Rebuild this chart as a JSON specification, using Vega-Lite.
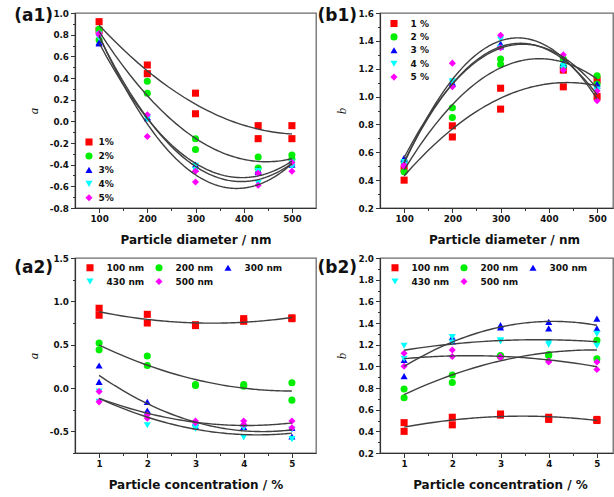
{
  "$schema": "https://vega.github.io/schema/vega-lite/v6.json",
  "padding": {"left": 13, "top": 6, "right": 0, "bottom": 0},
  "datasets": {
    "pts": [
      {"d":100,"c":1,"a":0.92,"b":0.48},{"d":100,"c":1,"a":0.84,"b":0.40},
      {"d":100,"c":2,"a":0.85,"b":0.53},{"d":100,"c":2,"a":0.75,"b":0.46},
      {"d":100,"c":3,"a":0.73,"b":0.56},{"d":100,"c":3,"a":0.72,"b":0.55},
      {"d":100,"c":4,"a":0.80,"b":0.53},{"d":100,"c":4,"a":0.77,"b":0.51},
      {"d":100,"c":5,"a":0.81,"b":0.51},{"d":100,"c":5,"a":0.80,"b":0.50},
      {"d":200,"c":1,"a":0.52,"b":0.79},{"d":200,"c":1,"a":0.44,"b":0.71},
      {"d":200,"c":2,"a":0.37,"b":0.92},{"d":200,"c":2,"a":0.26,"b":0.85},
      {"d":200,"c":3,"a":0.04,"b":1.10},{"d":200,"c":3,"a":0.03,"b":1.09},
      {"d":200,"c":4,"a":0.04,"b":1.11},{"d":200,"c":4,"a":0.02,"b":1.10},
      {"d":200,"c":5,"a":0.06,"b":1.24},{"d":200,"c":5,"a":-0.14,"b":1.07},
      {"d":300,"c":1,"a":0.26,"b":1.06},{"d":300,"c":1,"a":0.07,"b":0.91},
      {"d":300,"c":2,"a":-0.16,"b":1.27},{"d":300,"c":2,"a":-0.26,"b":1.23},
      {"d":300,"c":3,"a":-0.40,"b":1.38},{"d":300,"c":3,"a":-0.44,"b":1.36},
      {"d":300,"c":4,"a":-0.41,"b":1.41},{"d":300,"c":4,"a":-0.45,"b":1.35},
      {"d":300,"c":5,"a":-0.46,"b":1.44},{"d":300,"c":5,"a":-0.56,"b":1.35},
      {"d":430,"c":1,"a":-0.04,"b":1.19},{"d":430,"c":1,"a":-0.16,"b":1.07},
      {"d":430,"c":2,"a":-0.33,"b":1.27},{"d":430,"c":2,"a":-0.43,"b":1.22},
      {"d":430,"c":3,"a":-0.45,"b":1.24},{"d":430,"c":3,"a":-0.47,"b":1.23},
      {"d":430,"c":4,"a":-0.46,"b":1.22},{"d":430,"c":4,"a":-0.57,"b":1.20},
      {"d":430,"c":5,"a":-0.48,"b":1.30},{"d":430,"c":5,"a":-0.59,"b":1.19},
      {"d":500,"c":1,"a":-0.04,"b":1.12},{"d":500,"c":1,"a":-0.16,"b":1.00},
      {"d":500,"c":2,"a":-0.31,"b":1.15},{"d":500,"c":2,"a":-0.35,"b":1.09},
      {"d":500,"c":3,"a":-0.38,"b":1.09},{"d":500,"c":3,"a":-0.40,"b":1.08},
      {"d":500,"c":4,"a":-0.38,"b":1.05},{"d":500,"c":4,"a":-0.42,"b":1.04},
      {"d":500,"c":5,"a":-0.38,"b":1.04},{"d":500,"c":5,"a":-0.46,"b":0.97}
    ]
  },
  "config": {
    "font": "DejaVu Sans",
    "view": {"stroke": "#6b6b6b", "strokeWidth": 1.3},
    "axis": {
      "labelFont": "DejaVu Sans", "labelFontWeight": "bold", "labelFontSize": 8.8, "labelColor": "#111111",
      "titleFont": "DejaVu Sans", "titleFontWeight": "bold", "titleFontSize": 12, "titleColor": "#111111",
      "domainColor": "#333333", "domainWidth": 1.2, "tickColor": "#333333", "tickWidth": 1, "tickCount": 100,
      "grid": false, "labelPadding": 2, "labelOverlap": false, "labelFlush": false, "titlePadding": 11
    },
    "axisY": {"titleFont": "Liberation Serif", "titleFontStyle": "italic", "titleFontWeight": "normal", "titleFontSize": 13, "titlePadding": 9},
    "legend": {"title": null, "labelFont": "DejaVu Sans", "labelFontWeight": "bold", "labelFontSize": 9, "labelColor": "#111111", "symbolSize": 50, "symbolStrokeWidth": 0, "padding": 0, "orient": "none"},
    "point": {"filled": true, "size": 50, "opacity": 1}
  },
  "bounds": "flush",
  "columns": 2,
  "spacing": {"row": 50, "column": 64},
  "resolve": {"scale": {"color": "independent", "shape": "independent"}},
  "concat": [
    {
      "width": 241, "height": 195,
      "title": {"text": "(a1)", "anchor": "start", "frame": "group", "align": "right", "baseline": "alphabetic", "offset": 0, "dx": -22, "dy": 29, "fontSize": 17, "fontWeight": "bold", "font": "DejaVu Sans", "color": "#111111"},
      "data": {"name": "pts"},
      "layer": [
        {
          "mark": {"type": "point", "filled": true, "size": 50, "opacity": 1},
          "encoding": {
            "x": {"field": "d", "type": "quantitative", "scale": {"domain": [50, 550], "nice": false, "zero": false},
              "axis": {"title": "Particle diameter / nm", "tickCount": 100, "values": [100,150,200,250,300,350,400,450,500],
                "labelExpr": "datum.value % 100 == 0 ? datum.label : ''",
                "tickSize": {"condition": {"test": "datum.value % 100 != 0", "value": 2.5}, "value": 4.5}}},
            "y": {"field": "a", "type": "quantitative", "scale": {"domain": [-0.8, 1.0], "nice": false, "zero": false},
              "axis": {"title": "a", "tickCount": 100, "values": [-0.8,-0.7,-0.6,-0.5,-0.4,-0.3,-0.2,-0.1,0,0.1,0.2,0.3,0.4,0.5,0.6,0.7,0.8,0.9,1.0],
                "labelExpr": "abs(round(datum.value*10)) % 2 == 0 ? (datum.value < 0 ? '-' : '') + format(abs(datum.value), '.1f') : ''",
                "tickSize": {"condition": {"test": "abs(round(datum.value*10)) % 2 != 0", "value": 2.5}, "value": 4.5}}},
            "color": {"field": "c", "type": "nominal", "scale": {"range": ["#ff0000", "#00ee00", "#0000ff", "#00ffff", "#ff00ff"]},
              "legend": {"legendX": 9.5, "legendY": 124.5, "labelExpr": "datum.label + '%'", "rowPadding": 3.95, "labelOffset": 5}},
            "shape": {"field": "c", "type": "nominal", "scale": {"range": ["square", "circle", "triangle-up", "triangle-down", "diamond"]}}
          }
        },
        {
          "transform": [{"regression": "a", "on": "d", "groupby": ["c"], "method": "poly", "order": 2}],
          "mark": {"type": "line", "color": "#404040", "strokeWidth": 1.4},
          "encoding": {
            "x": {"field": "d", "type": "quantitative"},
            "y": {"field": "a", "type": "quantitative"},
            "detail": {"field": "c", "type": "nominal"}
          }
        }
      ]
    },
    {
      "width": 233, "height": 195,
      "title": {"text": "(b1)", "anchor": "start", "frame": "group", "align": "right", "baseline": "alphabetic", "offset": 0, "dx": -23, "dy": 29, "fontSize": 17, "fontWeight": "bold", "font": "DejaVu Sans", "color": "#111111"},
      "data": {"name": "pts"},
      "layer": [
        {
          "mark": {"type": "point", "filled": true, "size": 50, "opacity": 1},
          "encoding": {
            "x": {"field": "d", "type": "quantitative", "scale": {"domain": [50, 533], "nice": false, "zero": false},
              "axis": {"title": "Particle diameter / nm", "titleX": 124, "tickCount": 100, "values": [100,150,200,250,300,350,400,450,500],
                "labelExpr": "datum.value % 100 == 0 ? datum.label : ''",
                "tickSize": {"condition": {"test": "datum.value % 100 != 0", "value": 2.5}, "value": 4.5}}},
            "y": {"field": "b", "type": "quantitative", "scale": {"domain": [0.2, 1.6], "nice": false, "zero": false},
              "axis": {"title": "b", "tickCount": 100, "values": [0.2,0.3,0.4,0.5,0.6,0.7,0.8,0.9,1.0,1.1,1.2,1.3,1.4,1.5,1.6],
                "labelExpr": "abs(round(datum.value*10)) % 2 == 0 ? format(datum.value, '.1f') : ''",
                "tickSize": {"condition": {"test": "abs(round(datum.value*10)) % 2 != 0", "value": 2.5}, "value": 4.5}}},
            "color": {"field": "c", "type": "nominal", "scale": {"range": ["#ff0000", "#00ee00", "#0000ff", "#00ffff", "#ff00ff"]},
              "legend": {"legendX": 9.5, "legendY": 6, "labelExpr": "datum.label + ' %'", "rowPadding": 3.4, "labelOffset": 12}},
            "shape": {"field": "c", "type": "nominal", "scale": {"range": ["square", "circle", "triangle-up", "triangle-down", "diamond"]}}
          }
        },
        {
          "transform": [{"regression": "b", "on": "d", "groupby": ["c"], "method": "poly", "order": 2}],
          "mark": {"type": "line", "color": "#404040", "strokeWidth": 1.4},
          "encoding": {
            "x": {"field": "d", "type": "quantitative"},
            "y": {"field": "b", "type": "quantitative"},
            "detail": {"field": "c", "type": "nominal"}
          }
        }
      ]
    },
    {
      "width": 241, "height": 195,
      "title": {"text": "(a2)", "anchor": "start", "frame": "group", "align": "right", "baseline": "alphabetic", "offset": 0, "dx": -22, "dy": 36, "fontSize": 17, "fontWeight": "bold", "font": "DejaVu Sans", "color": "#111111"},
      "data": {"name": "pts"},
      "layer": [
        {
          "mark": {"type": "point", "filled": true, "size": 50, "opacity": 1},
          "encoding": {
            "x": {"field": "c", "type": "quantitative", "scale": {"domain": [0.5, 5.5], "nice": false, "zero": false},
              "axis": {"title": "Particle concentration / %", "tickCount": 100, "values": [1,1.5,2,2.5,3,3.5,4,4.5,5],
                "labelExpr": "datum.value % 1 == 0 ? format(datum.value, 'd') : ''",
                "tickSize": {"condition": {"test": "datum.value % 1 != 0", "value": 2.5}, "value": 4.5}}},
            "y": {"field": "a", "type": "quantitative", "scale": {"domain": [-0.75, 1.5], "nice": false, "zero": false},
              "axis": {"title": "a", "tickCount": 100, "values": [-0.75,-0.5,-0.25,0,0.25,0.5,0.75,1.0,1.25,1.5],
                "labelExpr": "abs(round(datum.value*4)) % 2 == 0 ? (datum.value < 0 ? '-' : '') + format(abs(datum.value), '.1f') : ''",
                "tickSize": {"condition": {"test": "abs(round(datum.value*4)) % 2 != 0", "value": 2.5}, "value": 4.5}}},
            "color": {"field": "d", "type": "nominal", "scale": {"range": ["#ff0000", "#00ee00", "#0000ff", "#00ffff", "#ff00ff"]},
              "legend": {"legendX": 10.5, "legendY": 5, "columns": 3, "direction": "horizontal", "labelExpr": "datum.label + ' nm'", "rowPadding": 4, "columnPadding": 10, "labelOffset": 12}},
            "shape": {"field": "d", "type": "nominal", "scale": {"range": ["square", "circle", "triangle-up", "triangle-down", "diamond"]}}
          }
        },
        {
          "transform": [{"regression": "a", "on": "c", "groupby": ["d"], "method": "poly", "order": 2}],
          "mark": {"type": "line", "color": "#404040", "strokeWidth": 1.4},
          "encoding": {
            "x": {"field": "c", "type": "quantitative"},
            "y": {"field": "a", "type": "quantitative"},
            "detail": {"field": "d", "type": "nominal"}
          }
        }
      ]
    },
    {
      "width": 233, "height": 195,
      "title": {"text": "(b2)", "anchor": "start", "frame": "group", "align": "right", "baseline": "alphabetic", "offset": 0, "dx": -23, "dy": 36, "fontSize": 17, "fontWeight": "bold", "font": "DejaVu Sans", "color": "#111111"},
      "data": {"name": "pts"},
      "layer": [
        {
          "mark": {"type": "point", "filled": true, "size": 50, "opacity": 1},
          "encoding": {
            "x": {"field": "c", "type": "quantitative", "scale": {"domain": [0.5, 5.334], "nice": false, "zero": false},
              "axis": {"title": "Particle concentration / %", "titleX": 120, "tickCount": 100, "values": [1,1.5,2,2.5,3,3.5,4,4.5,5],
                "labelExpr": "datum.value % 1 == 0 ? format(datum.value, 'd') : ''",
                "tickSize": {"condition": {"test": "datum.value % 1 != 0", "value": 2.5}, "value": 4.5}}},
            "y": {"field": "b", "type": "quantitative", "scale": {"domain": [0.2, 2.0], "nice": false, "zero": false},
              "axis": {"title": "b", "tickCount": 100, "values": [0.2,0.3,0.4,0.5,0.6,0.7,0.8,0.9,1.0,1.1,1.2,1.3,1.4,1.5,1.6,1.7,1.8,1.9,2.0],
                "labelExpr": "abs(round(datum.value*10)) % 2 == 0 ? format(datum.value, '.1f') : ''",
                "tickSize": {"condition": {"test": "abs(round(datum.value*10)) % 2 != 0", "value": 2.5}, "value": 4.5}}},
            "color": {"field": "d", "type": "nominal", "scale": {"range": ["#ff0000", "#00ee00", "#0000ff", "#00ffff", "#ff00ff"]},
              "legend": {"legendX": 10.5, "legendY": 5, "columns": 3, "direction": "horizontal", "labelExpr": "datum.label + ' nm'", "rowPadding": 4, "columnPadding": 10, "labelOffset": 12}},
            "shape": {"field": "d", "type": "nominal", "scale": {"range": ["square", "circle", "triangle-up", "triangle-down", "diamond"]}}
          }
        },
        {
          "transform": [{"regression": "b", "on": "c", "groupby": ["d"], "method": "poly", "order": 2}],
          "mark": {"type": "line", "color": "#404040", "strokeWidth": 1.4},
          "encoding": {
            "x": {"field": "c", "type": "quantitative"},
            "y": {"field": "b", "type": "quantitative"},
            "detail": {"field": "d", "type": "nominal"}
          }
        }
      ]
    }
  ]
}
